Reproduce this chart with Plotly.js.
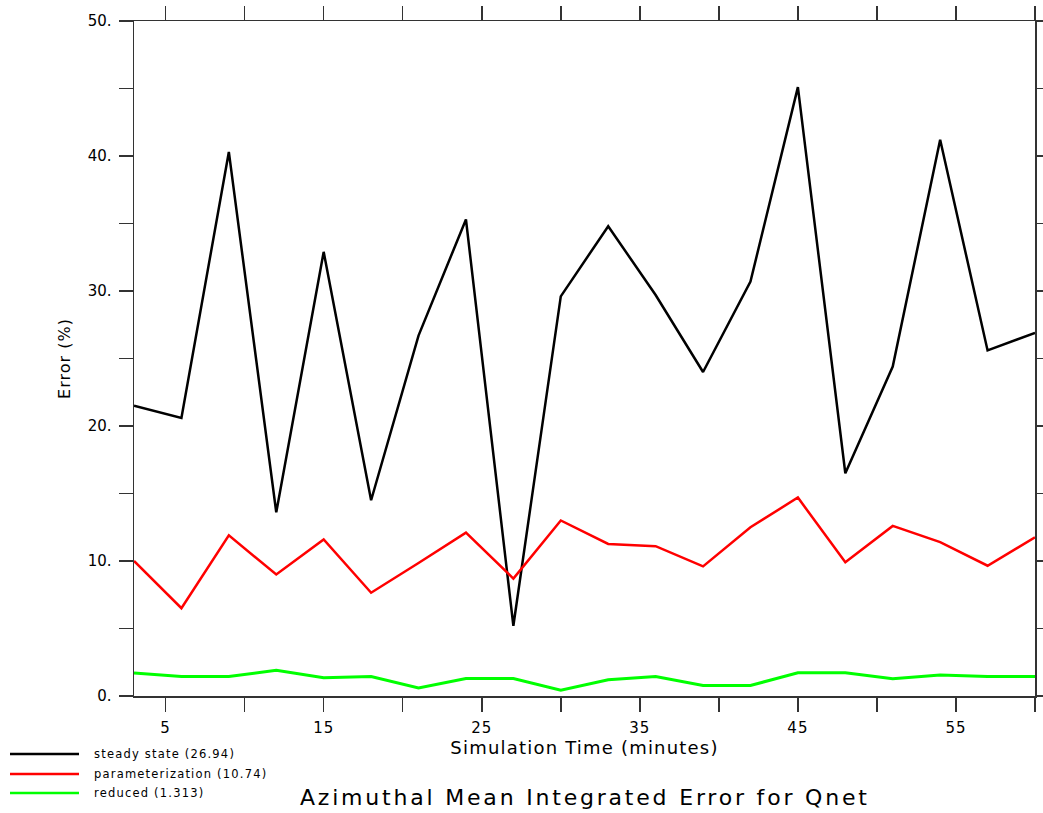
<!DOCTYPE html>
<html>
<head>
<meta charset="utf-8">
<script src="https://cdn.plot.ly/plotly-3.0.1.min.js"></script>
<style>
html,body{margin:0;padding:0;background:#fff;}
#chart{width:1043px;height:813px;}
#chart .xtitle{letter-spacing:1.2px;}
#chart .ytitle{letter-spacing:1px;}
#chart g.annotation[data-index="0"] text,
#chart g.annotation[data-index="1"] text,
#chart g.annotation[data-index="2"] text{letter-spacing:1.2px;}
#chart g.annotation[data-index="3"] text{letter-spacing:2.8px;}
#chart .xtick text{letter-spacing:1px;}
</style>
</head>
<body>
<div id="chart"></div>
<script>
// Data
const times = [3, 6, 9, 12, 15, 18, 21, 24, 27, 30, 33, 36, 39, 42, 45, 48, 51, 54, 57, 60];
const steadyState = [21.5, 20.6, 40.3, 13.6, 32.9, 14.5, 26.7, 35.3, 5.2, 29.6, 34.8, 29.7, 24.0, 30.7, 45.1, 16.5, 24.4, 41.2, 25.6, 26.9];
const parameterization = [10.0, 6.5, 11.9, 9.0, 11.6, 7.65, 9.85, 12.1, 8.7, 13.0, 11.26, 11.1, 9.6, 12.5, 14.7, 9.9, 12.6, 11.4, 9.65, 11.75];
const reduced = [1.7, 1.45, 1.45, 1.9, 1.35, 1.45, 0.6, 1.3, 1.3, 0.43, 1.2, 1.45, 0.78, 0.78, 1.72, 1.72, 1.27, 1.55, 1.45, 1.45];

const seriesNames = ["steady state (26.94)", "parameterization (10.74)", "reduced (1.313)"];
const seriesColors = ["#000000", "#ff0000", "#00ff00"];

const xTickVals = [5, 10, 15, 20, 25, 30, 35, 40, 45, 50, 55, 60];
const xTickText = ["5", "", "15", "", "25", "", "35", "", "45", "", "55", ""];
const yTickVals = [0, 5, 10, 15, 20, 25, 30, 35, 40, 45, 50];
const yTickText = ["0.", "", "10.", "", "20.", "", "30.", "", "40.", "", "50."];

const seriesValues = [steadyState, parameterization, reduced];
const lineWidths = [2.5, 2.5, 3];

const traces = seriesValues.map((vals, i) => ({
  x: times,
  y: vals,
  type: "scatter",
  mode: "lines",
  name: seriesNames[i],
  line: {color: seriesColors[i], width: lineWidths[i]},
  showlegend: false,
  hoverinfo: "x+y"
}));

// Manual legend (bottom-left) with shapes and annotations
const W = 1043, H = 813;
const legendRowsY = [754, 774, 793];
const shapes = [];
const annotations = [];
legendRowsY.forEach((py, i) => {
  shapes.push({
    type: "line", xref: "paper", yref: "paper",
    x0: (10 - 134) / (1035 - 134), x1: (79 - 134) / (1035 - 134),
    y0: (696 - py) / (696 - 21), y1: (696 - py) / (696 - 21),
    line: {color: seriesColors[i], width: 2.5}
  });
  annotations.push({
    xref: "paper", yref: "paper",
    x: (92 - 134) / (1035 - 134), y: (696 - py) / (696 - 21),
    xanchor: "left", yanchor: "middle", align: "left",
    text: seriesNames[i], showarrow: false,
    font: {family: "DejaVu Sans", size: 11.5, color: "#000"}
  });
});
annotations.push({
  xref: "paper", yref: "paper",
  x: 0.5, y: (696 - 797) / (696 - 21),
  xanchor: "center", yanchor: "middle",
  text: "Azimuthal Mean Integrated Error for Qnet", showarrow: false,
  font: {family: "DejaVu Sans", size: 22, color: "#000"}
});

const axisCommon = {
  showgrid: false, zeroline: false, showline: true, linecolor: "#333", linewidth: 1.5,
  ticks: "outside", ticklen: 14, tickwidth: 1.5, tickcolor: "#333", mirror: "ticks",
  tickmode: "array", tickfont: {family: "DejaVu Sans", size: 15, color: "#000"}
};

const layout = {
  width: W, height: H,
  margin: {l: 134, r: 8, t: 21, b: 117},
  paper_bgcolor: "#fff", plot_bgcolor: "#fff",
  showlegend: false,
  xaxis: Object.assign({}, axisCommon, {
    range: [3, 60], tickvals: xTickVals, ticktext: xTickText,
    ticklabelstandoff: 3,
    title: {text: "Simulation Time (minutes)", font: {family: "DejaVu Sans", size: 18, color: "#000"}, standoff: 6}
  }),
  yaxis: Object.assign({}, axisCommon, {
    range: [0, 50], tickvals: yTickVals, ticktext: yTickText,
    ticklabelstandoff: 4,
    title: {text: "Error (%)", font: {family: "DejaVu Sans", size: 16, color: "#000"}, standoff: 13}
  }),
  shapes: shapes,
  annotations: annotations
};

Plotly.newPlot("chart", traces, layout, {displayModeBar: false, staticPlot: true});
</script>
</body>
</html>
